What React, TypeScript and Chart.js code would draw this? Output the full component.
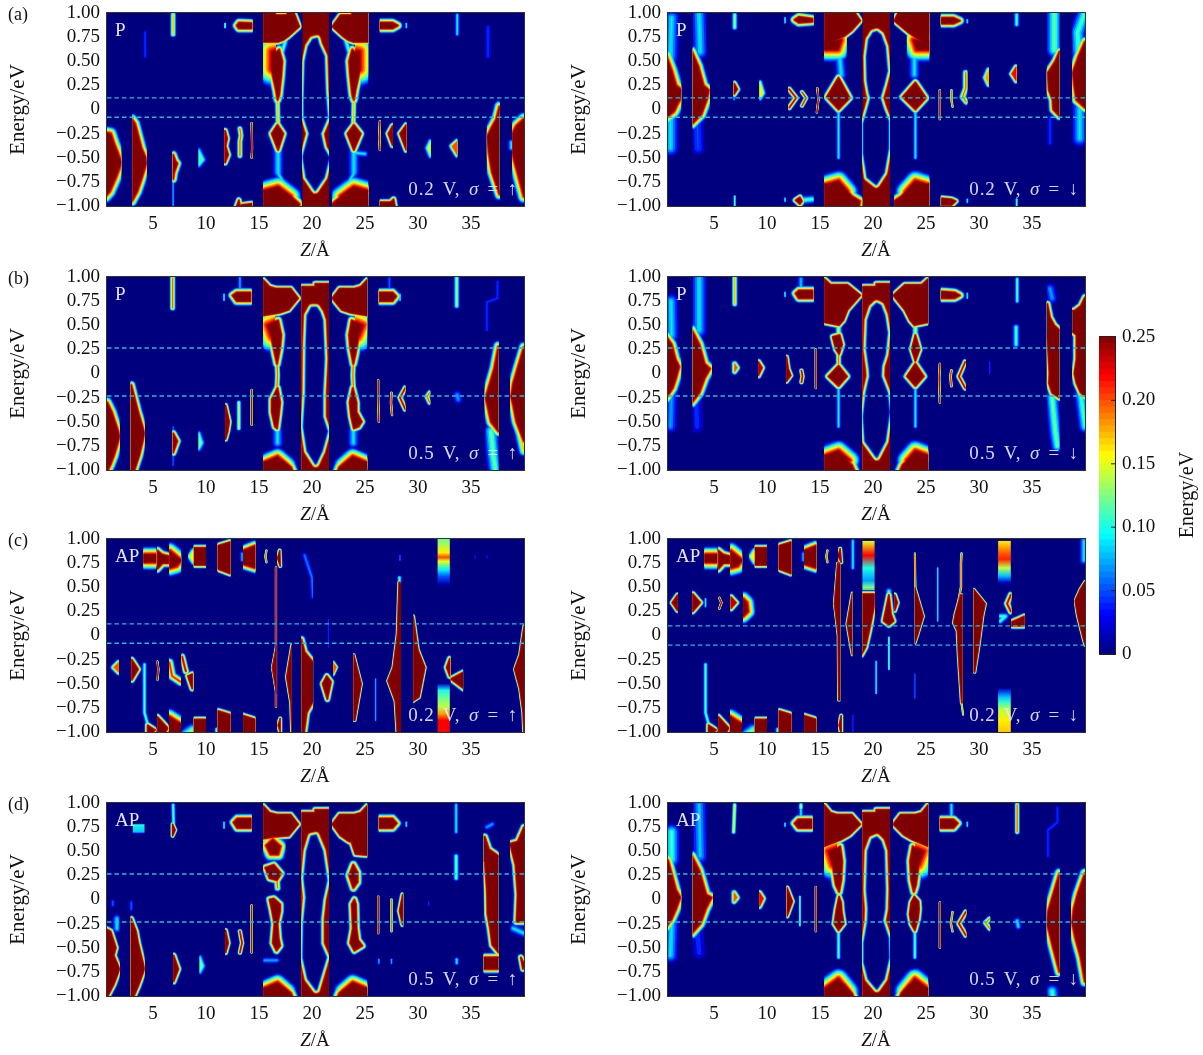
import React, { useEffect, useRef } from "react";
import { Chart, registerables } from "chart.js";
Chart.register(...registerables);

type Shape = { k: string; s: number; lo: number; hi: number; top: number; p: number[] };
const b = (s: number, lo: number | null, hi: number | null, p: number[], top = 0.25): Shape => ({ k: "b", s, lo: lo ?? -99, hi: hi ?? 99, top, p });
const r = (s: number, top: number, p: number[], lo: number | null = null, hi: number | null = null): Shape => ({ k: "r", s, lo: lo ?? -99, hi: hi ?? 99, top, p });
const h = (s: number, lo: number, hi: number, p: number[]): Shape => ({ k: "h", s, lo, hi, top: 0.25, p });
const st = (lo: number, hi: number, p: number[]): Shape => ({ k: "s", s: 0, lo, hi, top: 0.25, p });

const xTickValues = [5, 10, 15, 20, 25, 30, 35];
const energyTicks = [-1, -0.75, -0.5, -0.25, 0, 0.25, 0.5, 0.75, 1];
const colorTicks = [0, 0.05, 0.1, 0.15, 0.2, 0.25];
const colorEdges = [0, 0.005, 0.01, 0.015, 0.02, 0.025, 0.03, 0.035, 0.04, 0.045, 0.05, 0.055, 0.06, 0.065, 0.07, 0.075, 0.08, 0.085, 0.09, 0.095, 0.1, 0.105, 0.11, 0.115, 0.12, 0.125, 0.13, 0.135, 0.14, 0.145, 0.15, 0.155, 0.16, 0.165, 0.17, 0.175, 0.18, 0.185, 0.19, 0.195, 0.2, 0.205, 0.21, 0.215, 0.22, 0.225, 0.23, 0.235, 0.24, 0.245, 0.25];

const windowLow = [0.12, -0.08];
const windowHigh = [0.265, -0.233];
const windowC2 = [0.1, -0.1];

const columnFull = [19, 1.05, 21.6, 1.05, 21.6, -1.05, 19, -1.05];
const columnStep = [19, 0.9, 20.3, 0.9, 20.3, 0.93, 21.6, 0.93, 21.6, -1.05, 19, -1.05];

const apTopRow: Shape[] = [
  b(9, 4.1, 5.3, [4.1, 0.84, 5.3, 0.84, 5.3, 0.76, 4.1, 0.76]),
  b(4, 5.4, 6.5, [5.4, 0.88, 5.85, 0.84, 6.5, 0.82, 6.5, 0.75, 5.9, 0.75, 5.4, 0.69]),
  b(10, 6.55, 7.65, [6.55, 0.88, 7.1, 0.83, 7.65, 0.78, 7.2, 0.72, 6.55, 0.7]),
  b(3, 8.85, 10, [8.85, 0.91, 10, 0.91, 10, 0.73, 8.85, 0.73]),
  b(3, 8.3, 8.85, [8.8, 0.88, 8.45, 0.82, 8.8, 0.76], 0.15),
  b(3, 11.1, 12.3, [11.1, 0.93, 12.3, 0.97, 12.3, 0.64, 11.1, 0.69]),
  b(5, 13.5, 14.65, [13.5, 0.88, 14.65, 0.93, 14.65, 0.7, 13.5, 0.74]),
  r(2, 0.08, [13.4, 0.85, 13.4, 0.78]),
  r(1.5, 0.2, [15.7, 0.88, 15.6, 0.82, 15.7, 0.76]),
];
const apBottomRow: Shape[] = [
  b(3, 4.2, 5.3, [4.5, -0.93, 5.2, -0.98, 4.5, -1.05]),
  r(2, 0.12, [4.2, -0.3, 4.2, -0.8, 4.5, -0.92]),
  b(3, 5.4, 6.45, [5.4, -0.84, 6.4, -0.96, 5.9, -1.05, 5.4, -1.05]),
  b(7, 6.5, 7.65, [6.5, -0.84, 7.65, -0.92, 7.65, -1.05, 6.5, -1.05]),
  r(8, 0.14, [7.8, -1.05, 8.7, -0.98], 7.7, 8.8),
  b(3, 8.85, 10, [8.85, -0.87, 10, -0.87, 10, -1.05, 8.85, -1.05]),
  b(3, 11.1, 12.3, [11.1, -0.78, 12.3, -0.82, 12.3, -1.05, 11.1, -1.05]),
  b(3, 13.5, 14.65, [13.5, -0.83, 14.65, -0.87, 14.65, -1.05, 13.5, -1.05]),
  r(2, 0.12, [11, -0.97, 11, -1]),
];

const panelAUp: Shape[] = [
  b(8, 0.66, 2, [0.5, -0.24, 1, -0.25, 1.3, -0.35, 1.9, -0.52, 2, -0.55, 1.5, -0.7, 0.9, -0.85, 0.5, -0.9]),
  b(5, 3.06, 4.4, [3, -0.1, 3.3, -0.15, 3.9, -0.4, 4.3, -0.5, 4.35, -0.56, 3.9, -0.72, 3.5, -0.85, 3, -0.95]),
  b(4, 6.85, null, [6.9, -0.47, 7.1, -0.53, 7.3, -0.56, 7, -0.65, 6.9, -0.72]),
  r(1.5, 0.08, [6.9, -0.72, 6.9, -1]),
  r(2.5, 0.18, [6.9, 0.98, 6.9, 0.78]),
  r(2, 0.05, [4.25, 0.8, 4.25, 0.55]),
  b(3, 9.3, null, [9.3, -0.42, 9.75, -0.52, 9.3, -0.58], 0.11),
  b(3, 11.7, null, [11.8, -0.22, 12, -0.3, 11.85, -0.38, 12.1, -0.47, 11.8, -0.55]),
  r(2.5, 0.2, [13.2, -0.2, 13.3, -0.27, 13.2, -0.33, 13.2, -0.48]),
  r(1.2, 0.25, [14.3, -0.14, 14.35, -0.4, 14.3, -0.5]),
  r(1.5, 0.12, [11.8, 0.89, 11.8, 0.85]),
  b(4, null, 14.4, [12.9, 0.87, 13.1, 0.9, 14.3, 0.895, 14.3, 0.84, 13.1, 0.84]),
  b(3, null, 14.4, [12.9, -1, 13.1, -0.94, 13.2, -1]),
  b(3, null, 14.4, [13.3, -0.99, 14.3, -0.975, 14.3, -1.05, 13.3, -1.05]),
  b(3, 15.4, 19, [15.4, 1.05, 16.2, 1.05, 16.6, 0.98, 17.6, 0.98, 18, 1.05, 18.3, 1, 18.8, 0.86, 17.8, 0.76, 17.3, 0.72, 16.8, 0.7, 15.4, 0.7]),
  b(20, 15.4, 16.6, [16.2, 0.6, 16.9, 0.62, 16.6, 0.42, 16.2, 0.42]),
  b(4, 15.4, 19, [16.2, 0.55, 16.9, 0.62, 17.2, 0.5, 17.1, 0.35, 16.9, 0.15, 16.75, 0.1, 16.6, 0.2, 16.2, 0.4]),
  r(3, 0.12, [17.6, 0.75, 17.2, 0.6]),
  r(2.5, 0.18, [16.75, 0.1, 16.8, -0.15]),
  b(3.5, 15.4, 19, [16.75, -0.16, 17.3, -0.25, 16.8, -0.42, 16.2, -0.25]),
  r(5, 0.1, [16.8, -0.42, 16.8, -0.65]),
  b(5, 15.4, 19, [15.4, -0.84, 16.3, -0.83, 16.8, -0.8, 17.2, -0.85, 18, -0.9, 18.8, -0.98, 18.6, -1.05, 15.4, -1.05]),
  b(12, 15.4, 19, [16.8, -0.8, 15.5, -0.84, 18, -0.9]),
  r(3, 0.1, [16.8, -0.66, 17.8, -0.85, 18.7, -0.97]),
  b(0, 19.1, 21.6, columnFull),
  h(3.5, 19.1, 21.6, [20.45, 0.73, 20.1, 0.72, 19.7, 0.65, 19.4, 0.5, 19.3, 0.1, 19.3, -0.08, 19.8, -0.25, 19.3, -0.45, 19.2, -0.49, 19.5, -0.7, 20.3, -0.83, 21.1, -0.7, 21.55, -0.5, 21.05, -0.4, 20.75, -0.25, 21.4, -0.08, 21.2, 0.2, 21.1, 0.55, 20.6, 0.67]),
  b(3, 21.9, 25.3, [25.3, 0.7, 23.9, 0.7, 23.4, 0.72, 22.9, 0.76, 21.9, 0.86, 22.7, 0.98, 23.7, 0.98, 24.1, 1.05, 25.3, 1.05]),
  b(20, 24.1, 25.3, [24.5, 0.6, 23.8, 0.62, 24.1, 0.42, 24.5, 0.42]),
  b(4, 21.9, 25.3, [24.5, 0.55, 23.8, 0.62, 23.5, 0.5, 23.6, 0.35, 23.8, 0.15, 23.95, 0.1, 24.1, 0.2, 24.5, 0.4]),
  r(3, 0.12, [23.1, 0.75, 23.5, 0.6]),
  r(2.5, 0.18, [23.95, 0.1, 23.9, -0.15]),
  b(3.5, 21.9, 25.3, [23.95, -0.16, 24.6, -0.25, 23.95, -0.42, 23.35, -0.25]),
  r(3, 0.1, [24.1, -0.45, 25, -0.46], 21.9, 25.3),
  r(5, 0.1, [23.95, -0.42, 23.95, -0.65]),
  b(5, 21.9, 25.3, [25.3, -0.84, 24.4, -0.83, 23.95, -0.8, 23.5, -0.85, 22.8, -0.9, 21.9, -0.98, 22.1, -1.05, 25.3, -1.05]),
  b(12, 21.9, 25.3, [23.95, -0.8, 25.2, -0.84, 22.7, -0.9]),
  r(3, 0.1, [23.95, -0.66, 23, -0.85]),
  r(1.3, 0.25, [26.4, -0.12, 26.35, -0.3, 26.4, -0.42]),
  b(3, null, 27.65, [27.6, -0.17, 27.2, -0.25, 27.6, -0.37]),
  b(3, null, 28.9, [28.9, -0.16, 28.3, -0.25, 28.9, -0.42]),
  b(3, null, 31.2, [31.2, -0.33, 30.9, -0.4, 31.2, -0.48], 0.14),
  b(3, null, 33.7, [33.7, -0.33, 33.2, -0.38, 33.7, -0.47], 0.2),
  r(2, 0.1, [33.7, 0.98, 33.7, 0.78]),
  b(4, 26.4, null, [26.4, 0.9, 27.6, 0.9, 28.1, 0.87, 27.6, 0.84, 26.4, 0.84]),
  r(1.5, 0.1, [28.9, 0.89, 28.9, 0.85]),
  b(3, 26.4, null, [26.4, -0.96, 27.4, -0.96, 27.7, -0.93, 27.9, -1.05, 26.4, -1.05]),
  b(5, 36.5, 37.7, [38, 0.03, 37.7, 0.03, 37.4, -0.1, 36.9, -0.2, 36.55, -0.28, 36.7, -0.45, 37, -0.65, 37.7, -0.88, 38, -0.88]),
  r(3, 0.05, [36.6, 0.85, 36.6, 0.55]),
  b(6, 38.9, 40, [38.9, -0.25, 39.3, -0.17, 40, -0.1, 40.2, -0.1, 40.2, -0.9, 40, -0.9, 39.4, -0.65, 38.9, -0.45]),
  r(3, 0.1, [38.8, -0.34, 38.8, -0.4], null, 38.9),
];

const panelADown: Shape[] = [
  b(6, 0.66, 1.9, [0.5, 0.55, 1, 0.4, 1.4, 0.25, 1.9, 0.2, 1.75, 0.1, 1.5, 0.05, 1.2, -0.02, 0.5, -0.08]),
  r(10, 0.1, [1, 0.95, 0.9, 0.55], 0.66, 1.9),
  r(10, 0.1, [0.9, -0.05, 0.9, -0.4], 0.66, 1.9),
  b(5, 3, 4.6, [2.9, 0.6, 3.5, 0.45, 4, 0.25, 4.5, 0.2, 4.3, 0.1, 3.8, -0.05, 2.9, -0.15]),
  r(10, 0.1, [3.6, 0.98, 3.7, 0.6], 3, 4.3),
  r(7, 0.06, [3.4, -0.1, 3.5, -0.4], 3, 4.3),
  r(2.5, 0.14, [6.95, 0.98, 6.95, 0.85]),
  b(3, 6.85, null, [6.9, 0.27, 7.2, 0.21, 6.9, 0.16]),
  r(1.5, 0.08, [6.9, 0.16, 6.9, 0.1]),
  r(1.5, 0.12, [6.95, -0.9, 6.95, -1]),
  b(3, 9.3, null, [9.3, 0.28, 9.6, 0.17, 9.3, 0.12], 0.16),
  r(2.5, 0.24, [12.1, 0.21, 12.75, 0.12, 12.1, 0.02], 12),
  r(2, 0.22, [13.3, 0.18, 13.7, 0.12, 13.3, 0.04]),
  r(1.3, 0.25, [14.75, 0.22, 14.85, 0.1, 14.7, -0.03]),
  b(4, null, 14.4, [12.6, 0.93, 13, 0.96, 14.3, 0.94, 14.3, 0.91, 13, 0.9]),
  r(1.5, 0.1, [11.7, 0.95, 11.7, 0.9]),
  b(3, null, 13.5, [12.7, -0.94, 13.1, -0.91, 13.3, -0.95, 13.1, -0.98]),
  r(4, 0.12, [13.3, -0.94, 14.3, -0.93], null, 14.4),
  r(1.5, 0.1, [11.7, -0.92, 11.7, -0.95]),
  b(3, 15.4, 19, [15.4, 1.05, 18, 1.05, 18.8, 0.92, 18, 0.82, 17.3, 0.76, 16.5, 0.72, 15.4, 0.68]),
  b(14, 15.4, 17.5, [15.4, 0.7, 17, 0.72, 16.7, 0.62, 15.4, 0.62]),
  r(5, 0.1, [16.8, 0.62, 17, 0.36], 15.4, 19),
  b(3.5, 15.4, 19, [16.75, 0.33, 17.8, 0.12, 16.75, 0, 15.65, 0.13]),
  r(2, 0.1, [16.75, 0, 16.75, -0.5]),
  b(5, 15.4, 19, [15.4, -0.77, 16.2, -0.78, 16.8, -0.76, 17.2, -0.8, 18, -0.9, 18.75, -0.95, 18.6, -1.05, 15.4, -1.05]),
  b(12, 15.4, 19, [16.75, -0.74, 15.5, -0.78, 17.6, -0.85]),
  b(0, 19, 21.6, columnFull),
  h(3.5, 19, 21.6, [20.05, 0.79, 19.65, 0.72, 19.45, 0.55, 19.5, 0.3, 19.7, 0.17, 19.85, 0.12, 19.55, 0, 19.15, -0.15, 19.15, -0.45, 19.5, -0.7, 20.3, -0.77, 21, -0.65, 21.4, -0.4, 21.4, -0.12, 20.95, 0, 20.6, 0.12, 20.95, 0.25, 21.3, 0.4, 21.1, 0.65, 20.7, 0.77, 20.35, 0.8]),
  b(3, 22, 25.3, [25.3, 1.05, 22.6, 1.05, 22, 0.92, 23.3, 0.8, 24.2, 0.73, 25.3, 0.68]),
  b(14, 23.2, 25.3, [25.3, 0.7, 23.8, 0.72, 24.1, 0.62, 25.3, 0.62]),
  r(5, 0.1, [23.9, 0.62, 23.9, 0.36], 22, 25.3),
  b(3.5, 22, 25.3, [24, 0.28, 25, 0.12, 24, 0, 22.8, 0.13]),
  r(2, 0.1, [24, 0, 24, -0.5]),
  b(5, 22, 25.3, [25.3, -0.77, 24.5, -0.78, 24, -0.76, 23.5, -0.8, 22.7, -0.9, 22, -0.95, 22.1, -1.05, 25.3, -1.05]),
  b(12, 22, 25.3, [24, -0.74, 25.2, -0.78, 23.1, -0.85]),
  r(1.3, 0.24, [26.3, 0.2, 26.3, -0.1]),
  r(1.5, 0.2, [27.4, 0.2, 27.4, 0.1, 27.5, 0.03]),
  r(3, 0.2, [28.75, 0.38, 28.75, 0.22, 28.45, 0.13, 28.8, 0.08], null, 28.9),
  b(3, null, 30.95, [30.9, 0.41, 30.6, 0.33, 30.9, 0.26], 0.18),
  b(3, null, 33.55, [33.5, 0.44, 33.1, 0.37, 33.5, 0.3], 0.22),
  r(2.5, 0.12, [33.55, 0.98, 33.55, 0.88]),
  b(4, 26.4, null, [26.5, 0.95, 27.6, 0.95, 28.2, 0.92, 27.6, 0.89, 26.5, 0.89]),
  b(3, 26.4, null, [26.5, -0.92, 27.4, -0.93, 27.8, -0.95, 27.4, -0.99, 26.5, -0.99]),
  r(1.5, 0.1, [28.9, 0.93, 28.9, 0.9]),
  r(1.5, 0.1, [28.9, -0.93, 28.9, -0.96]),
  r(1.5, 0.12, [33.55, -0.93, 33.55, -1]),
  b(4, 36.4, 37.6, [37.8, 0.6, 37.6, 0.6, 37.2, 0.5, 36.5, 0.38, 36.6, 0.2, 36.95, 0.1, 37, 0, 37.6, -0.07, 37.8, -0.07]),
  r(10, 0.13, [37.1, 1, 37.1, 0.62], 36.4, 37.6),
  r(3, 0.05, [36.7, -0.1, 36.7, -0.35]),
  b(5, 38.8, 40, [40.2, 0.7, 40, 0.7, 39.4, 0.55, 38.85, 0.38, 39, 0.25, 39.2, 0.1, 39.7, 0.05, 40, 0.02, 40.2, 0.02]),
  r(10, 0.12, [39.9, 0.98, 39.3, 0.8, 39.4, 0.6], 38.8, 40),
  r(10, 0.1, [39.5, 0, 39.5, -0.3], 38.8, 40),
];

const panelBUp: Shape[] = [
  b(5, 0.66, 1.85, [0.5, -0.3, 0.66, -0.3, 1.1, -0.4, 1.85, -0.65, 1.3, -0.85, 0.95, -0.95, 0.5, -1.05]),
  b(4, 2.9, 4.2, [2.8, -0.12, 2.95, -0.12, 3.6, -0.4, 4.2, -0.62, 3.7, -0.85, 3.1, -1.05, 2.8, -1.05]),
  b(3.5, 6.85, null, [6.9, -0.62, 7.3, -0.7, 6.9, -0.82]),
  r(1.5, 0.06, [6.9, -0.55, 6.9, -0.95]),
  b(3, 9.3, null, [9.3, -0.62, 9.6, -0.72, 9.3, -0.78], 0.12),
  b(2.5, 11.8, null, [11.85, -0.33, 12.2, -0.5, 12.05, -0.6, 11.85, -0.68]),
  r(2, 0.15, [13.1, -0.3, 13.1, -0.57]),
  r(1.2, 0.25, [14.3, -0.17, 14.3, -0.53]),
  r(2.5, 0.2, [6.85, 0.99, 6.85, 0.68]),
  b(4, null, 14.3, [12.5, 0.81, 12.9, 0.84, 14.2, 0.84, 14.2, 0.75, 12.9, 0.75]),
  r(2, 0.08, [13.2, 0.99, 13.2, 0.85]),
  r(1.5, 0.1, [11.7, 0.82, 11.7, 0.76]),
  b(3, 15.4, 19, [15.4, 0.97, 16, 0.9, 16.6, 0.88, 18, 0.88, 18.7, 0.78, 17.8, 0.66, 17, 0.63, 15.4, 0.6]),
  b(18, 15.4, 16.5, [15.8, 0.5, 16.8, 0.55, 16.5, 0.38, 16.2, 0.38]),
  b(4, 15.4, 19, [16.1, 0.52, 16.8, 0.55, 17.1, 0.4, 17, 0.27, 16.7, 0.1, 16.5, 0.2, 16.2, 0.35]),
  r(2.5, 0.2, [16.7, 0.1, 16.75, -0.02, 16.7, -0.13]),
  b(3.5, 15.4, 19, [16.75, -0.15, 17, -0.3, 16.85, -0.45, 16.7, -0.57, 16.5, -0.55, 16.2, -0.4, 16.2, -0.27]),
  r(5, 0.1, [16.75, -0.6, 16.75, -0.72]),
  b(5, 15.4, 19, [15.4, -0.92, 16.3, -0.9, 16.8, -0.88, 17.2, -0.9, 18, -0.97, 18.3, -1.05, 15.4, -1.05]),
  b(10, 15.4, 19, [16.75, -0.86, 15.5, -0.92, 17.7, -0.95]),
  b(3, 19, 21.6, columnStep),
  h(3.5, 19, 21.6, [20.4, 0.68, 20, 0.68, 19.6, 0.6, 19.5, 0.3, 19.45, -0.2, 19.25, -0.55, 19.6, -0.8, 20.35, -0.93, 20.9, -0.8, 21.4, -0.6, 20.95, -0.45, 20.95, -0.2, 21.1, 0.15, 20.95, 0.55, 20.7, 0.63]),
  b(3, 21.9, 25.2, [25.2, 0.97, 24.6, 0.9, 24, 0.88, 22.6, 0.88, 21.9, 0.78, 22.8, 0.66, 23.6, 0.63, 25.2, 0.6]),
  b(18, 24.1, 25.2, [24.8, 0.5, 23.75, 0.55, 24.05, 0.38, 24.35, 0.38]),
  b(4, 21.9, 25.2, [24.4, 0.52, 23.75, 0.55, 23.5, 0.4, 23.6, 0.27, 23.9, 0.1, 24.1, 0.2, 24.35, 0.35]),
  r(2.5, 0.2, [23.9, 0.1, 23.85, -0.02, 23.9, -0.13]),
  b(3.5, 21.9, 25.2, [23.85, -0.15, 24.2, -0.3, 24.2, -0.4, 24.7, -0.5, 24.4, -0.55, 23.95, -0.57, 23.7, -0.45, 23.55, -0.3]),
  r(5, 0.1, [23.9, -0.6, 23.9, -0.72]),
  b(5, 21.9, 25.2, [25.2, -0.92, 24.3, -0.9, 23.85, -0.88, 23.4, -0.9, 22.6, -0.97, 22.3, -1.05, 25.2, -1.05]),
  b(10, 21.9, 25.2, [23.85, -0.86, 25.1, -0.92, 22.9, -0.95]),
  r(1.2, 0.25, [26.25, -0.07, 26.25, -0.25, 26.3, -0.5]),
  r(1.5, 0.22, [27.5, -0.2, 27.45, -0.3, 27.55, -0.43]),
  r(2.5, 0.24, [28.8, -0.15, 28.3, -0.25, 28.8, -0.37], null, 28.8),
  r(2.5, 0.2, [31.1, -0.2, 30.85, -0.24, 31.1, -0.3], null, 31.15),
  r(4, 0.08, [33.7, -0.22, 33.8, -0.27]),
  b(4, 26.3, null, [26.4, 0.84, 27.6, 0.84, 27.95, 0.8, 27.6, 0.75, 26.4, 0.75]),
  r(1.5, 0.1, [28.3, 0.82, 28.3, 0.76]),
  r(2, 0.06, [27.3, 0.99, 27.3, 0.85]),
  r(2.5, 0.14, [33.65, 0.99, 33.65, 0.7]),
  r(2, 0.05, [37.5, 0.95, 37.5, 0.78, 36.5, 0.74, 36.5, 0.45]),
  b(5, 36.3, 37.6, [37.8, 0.28, 37.6, 0.28, 37.2, 0.05, 36.8, -0.1, 36.4, -0.25, 36.6, -0.35, 36.9, -0.5, 37.6, -0.6, 37.8, -0.6]),
  r(9, 0.13, [36.9, -0.6, 37.1, -0.85, 37.3, -1], 36.3, 37.6),
  b(5, 38.7, 40, [40.2, 0.27, 40, 0.27, 39.4, 0.05, 39, -0.1, 38.8, -0.24, 39, -0.33, 39.3, -0.5, 40, -0.7, 40.2, -0.7]),
  r(5, 0.18, [39.5, -0.55, 40, -0.8], 38.7, 40),
];

const panelBDown: Shape[] = [
  b(5, 0.66, 1.9, [0.5, 0.38, 1, 0.3, 1.35, 0.15, 1.7, 0.07, 1.4, -0.05, 1.1, -0.15, 0.5, -0.25]),
  r(9, 0.1, [0.95, 0.75, 1, 0.4], 0.66, 1.9),
  r(8, 0.08, [1, -0.2, 0.9, -0.55], 0.66, 1.9),
  b(5, 3, 4.8, [2.9, 0.45, 3.6, 0.3, 4.1, 0.1, 4.6, 0.05, 4.1, -0.05, 3.6, -0.2, 2.9, -0.3]),
  r(10, 0.1, [3.6, 0.98, 3.6, 0.45], 3, 4.3),
  r(7, 0.05, [3.3, -0.25, 3.4, -0.55], 3, 4.3),
  b(3, null, null, [6.95, 0.1, 7.2, 0.06, 6.95, 0.02], 0.2),
  r(2.5, 0.18, [6.95, 0.99, 6.95, 0.72]),
  b(3, 9.15, null, [9.2, 0.12, 9.55, 0.06, 9.2, -0.02], 0.24),
  b(2.5, 11.8, null, [11.85, 0.17, 12, 0.05, 12.25, -0.02, 11.85, -0.08]),
  r(2, 0.24, [13.25, 0.03, 13.35, -0.03, 13.25, -0.09]),
  r(1.3, 0.25, [14.6, 0.25, 14.6, -0.15]),
  b(4, null, 14.4, [12.7, 0.83, 13, 0.86, 14.3, 0.86, 14.3, 0.78, 13, 0.78]),
  r(3, 0.09, [13.2, 0.98, 13.2, 0.88]),
  r(1.5, 0.1, [11.7, 0.84, 11.7, 0.8]),
  b(3, 15.4, 19, [15.4, 0.98, 16, 0.92, 17.6, 0.92, 18.8, 0.81, 17.6, 0.66, 17.2, 0.55, 16.8, 0.5, 15.4, 0.53]),
  r(3, 0.15, [16.75, 0.5, 16.75, 0.42]),
  b(3, 15.4, 19, [16.2, 0.38, 16.85, 0.4, 17.1, 0.3, 16.8, 0.2, 16.5, 0.25]),
  r(2.5, 0.2, [16.75, 0.2, 16.75, 0.1]),
  b(3.5, 15.4, 19, [16.75, 0.08, 17.55, -0.03, 16.75, -0.13, 15.8, -0.03]),
  r(2, 0.1, [16.75, -0.17, 16.75, -0.55]),
  b(5, 15.4, 19, [15.4, -0.85, 16.3, -0.84, 16.8, -0.83, 17.3, -0.87, 18, -0.95, 18.4, -1.05, 15.4, -1.05]),
  b(12, 15.4, 19, [16.75, -0.8, 15.5, -0.85, 17.8, -0.9]),
  b(3, 19, 21.6, columnStep),
  h(3.5, 19, 21.6, [20.35, 0.72, 19.95, 0.68, 19.55, 0.55, 19.45, 0.25, 19.7, 0.05, 19.75, -0.03, 19.4, -0.2, 19.15, -0.45, 19.3, -0.7, 20.35, -0.86, 21.1, -0.7, 21.5, -0.4, 21.3, -0.2, 20.7, -0.03, 20.75, 0.08, 21.1, 0.2, 21.3, 0.42, 21.05, 0.6, 20.7, 0.7]),
  b(3, 21.9, 25.2, [25.2, 0.98, 24.6, 0.92, 23, 0.92, 21.9, 0.81, 23, 0.66, 23.5, 0.55, 23.9, 0.5, 25.2, 0.53]),
  r(3, 0.15, [24, 0.5, 24, 0.42]),
  b(3, 21.9, 25.2, [24, 0.4, 24.4, 0.25, 24, 0.13, 23.65, 0.25]),
  r(2.5, 0.2, [24, 0.13, 24, 0.1]),
  b(3.5, 21.9, 25.2, [24, 0.1, 24.8, -0.03, 24, -0.13, 23.2, -0.03]),
  r(2, 0.1, [24, -0.17, 24, -0.55]),
  b(5, 21.9, 25.2, [25.2, -0.85, 24.5, -0.84, 24, -0.83, 23.5, -0.87, 22.8, -0.95, 22.4, -1.05, 25.2, -1.05]),
  b(12, 21.9, 25.2, [24, -0.8, 25.2, -0.85, 23.2, -0.9]),
  r(1.3, 0.25, [26.3, 0.1, 26.25, -0.05, 26.3, -0.3]),
  r(1.8, 0.22, [27.4, 0.03, 27.3, -0.03, 27.4, -0.13]),
  r(2.5, 0.24, [28.7, 0.12, 28.1, -0.03, 28.7, -0.15], null, 28.75),
  r(1.5, 0.05, [31, 0.12, 31, 0]),
  r(3, 0.12, [33.5, 0.48, 33.5, 0.3]),
  r(2, 0.12, [33.6, 0.98, 33.6, 0.75]),
  b(4, 26.4, null, [26.5, 0.85, 27.7, 0.84, 28.2, 0.81, 27.7, 0.78, 26.5, 0.78]),
  r(1.5, 0.1, [28.9, 0.83, 28.9, 0.78]),
  b(3.5, 36.4, 37.6, [36.2, 0.72, 36.45, 0.72, 36.7, 0.58, 37.1, 0.5, 37.6, 0.45, 37.8, 0.45, 37.8, -0.25, 37.6, -0.25, 36.9, -0.2, 36.6, -0.1, 36.65, 0, 36.55, 0.2, 36.45, 0.35, 36.2, 0.35]),
  r(5, 0.08, [36.7, 0.88, 36.9, 0.78], 36.4, 37.6),
  r(8, 0.13, [36.9, -0.25, 37.2, -0.6, 37.4, -0.75], 36.4, 37.6),
  b(3.5, 38.8, 40, [38.6, 0.65, 39, 0.65, 39.6, 0.7, 40, 0.79, 40.2, 0.79, 40.2, -0.25, 39.6, -0.2, 39.2, -0.1, 39, 0, 39.2, 0.15, 39.2, 0.4, 38.6, 0.45]),
  r(8, 0.12, [39.6, -0.22, 40, -0.55], 38.8, 40),
];

const panelCUp: Shape[] = [
  ...apTopRow,
  ...apBottomRow,
  b(3, null, 1.8, [1.75, -0.28, 1.3, -0.33, 1.75, -0.38], 0.2),
  b(3, 2.95, null, [3, -0.25, 3.6, -0.35, 3, -0.46]),
  r(1.5, 0.24, [5.4, -0.27, 5.5, -0.35, 5.4, -0.46], 5.35),
  r(4, 0.22, [6.55, -0.28, 6.8, -0.42, 7.6, -0.48], 6.5, 7.65),
  r(3, 0.24, [7.75, -0.22, 8, -0.33, 8.1, -0.37], 7.7, 8.8),
  b(3, 7.7, 8.8, [8.3, -0.42, 8.7, -0.4, 8.7, -0.55]),
  st(31.85, 33, [1, 0.12, 0.86, 0.16, 0.81, 0.2, 0.77, 0.15, 0.68, 0.09, 0.61, 0.05, 0.53, 0.01, 0.5, 0]),
  st(31.85, 33, [-0.5, 0.02, -0.57, 0.1, -0.64, 0.12, -0.74, 0.14, -0.81, 0.18, -0.88, 0.22, -1, 0.22]),
  b(1.2, null, 16.65, [16.25, -0.33, 16.65, -0.1, 16.65, -0.6]),
  r(1.3, 0.24, [16.6, 0.71, 16.6, -0.74]),
  b(2, 16.7, null, [16.95, 0.88, 16.75, 0.8, 17, 0.72]),
  b(2, 16.7, null, [17, -0.86, 16.8, -0.93, 17, -1]),
  b(1.5, null, 18.1, [18.2, -0.1, 18.1, -0.1, 17.6, -0.43, 18, -0.7, 18.1, -1.05, 18.2, -1.05]),
  b(3.5, 19, 20.1, [18.9, -0.04, 19, -0.04, 19.3, -0.17, 20.1, -0.28, 20.3, -0.28, 20.3, -0.68, 20.1, -0.68, 19.5, -0.8, 19.2, -1.05, 18.9, -1.05]),
  r(2.5, 0.07, [19.3, 0.83, 20, 0.6, 20.1, 0.4], 19, 20.1),
  r(1, 0.05, [21.55, 0.17, 21.55, -0.12]),
  b(3, null, null, [21.4, -0.42, 21.8, -0.48, 21.45, -0.66, 21, -0.5]),
  b(2, 22, null, [22, -0.28, 22.3, -0.33, 22, -0.4], 0.2),
  b(1.5, 23.9, null, [23.95, -0.2, 24.65, -0.5, 24.05, -0.88, 23.9, -0.88]),
  r(1, 0.08, [26, -0.45, 26, -0.88]),
  b(1.5, null, 28.4, [28.2, 0.55, 28.05, 0.02, 27.65, -0.33, 27.15, -0.47, 27.85, -0.68, 28.05, -1.05, 28.5, -1.05, 28.5, 0.55]),
  r(1.5, 0.06, [28.3, 0.83, 28.3, 0.78]),
  r(2, 0.12, [28.25, 0.6, 28.25, 0.55]),
  b(1.8, 29.55, null, [29.55, 0.2, 30, -0.15, 30.65, -0.33, 30.1, -0.64, 29.55, -0.68]),
  b(3, null, 33.05, [33, -0.24, 32.7, -0.33, 33, -0.42]),
  b(3, 33.1, 34.25, [34.3, -0.38, 33.1, -0.45, 34.3, -0.55]),
  r(1, 0.04, [35.4, 0.83, 35.4, 0.8]),
  r(1, 0.04, [36.5, 0.83, 36.5, 0.8]),
  b(1.5, 39, null, [40.2, 0.1, 40, 0.1, 39.6, -0.2, 39.1, -0.35, 39.6, -0.55, 39.9, -0.8, 40, -1.05, 40.2, -1.05]),
];

const panelCDown: Shape[] = [
  ...apTopRow,
  ...apBottomRow,
  b(2.5, null, 1.6, [1.55, 0.42, 1.05, 0.34, 1.55, 0.26]),
  b(3, 2.95, null, [3, 0.43, 3.7, 0.34, 3, 0.25]),
  r(1.5, 0.1, [4.2, 0.38, 4.2, 0.3]),
  r(1.5, 0.24, [5.5, 0.39, 5.7, 0.34, 5.5, 0.28]),
  b(3, 6.55, null, [6.6, 0.4, 7.1, 0.34, 6.6, 0.28], 0.24),
  b(9, 7.75, 8.9, [7.75, 0.38, 8.1, 0.34, 8.2, 0.25, 7.75, 0.2]),
  st(31.8, 33, [0.98, 0.16, 0.84, 0.2, 0.79, 0.21, 0.7, 0.14, 0.62, 0.08, 0.55, 0.02, 0.52, 0]),
  st(31.8, 33, [-0.55, 0.02, -0.64, 0.08, -0.7, 0.11, -0.77, 0.14, -0.88, 0.16, -1, 0.17]),
  b(1.2, null, 16.9, [16.65, 0.75, 16.35, 0.33, 16.7, 0, 16.75, -0.67, 16.95, -0.67, 16.95, 0.75]),
  b(2, 16.7, null, [16.9, 0.9, 16.7, 0.82, 17, 0.76]),
  b(2, 16.7, null, [17, -0.83, 16.8, -0.93, 17, -1.02]),
  b(1.5, null, 18.05, [18.15, 0.44, 18.05, 0.44, 17.55, 0.12, 18.05, -0.2, 18.15, -0.2]),
  r(2, 0.1, [18.1, 0.98, 18.1, 0.7]),
  r(1.5, 0.05, [18.1, -0.83, 18.1, -1]),
  st(19, 20.15, [0.98, 0.15, 0.83, 0.22, 0.7, 0.1, 0.57, 0.07, 0.5, 0.12, 0.44, 0.2]),
  b(3, 19, 20.15, [18.9, 0.43, 20.15, 0.43, 20.1, 0.3, 19.65, 0.05, 19.3, -0.12, 18.9, -0.2]),
  r(1.5, 0.1, [20.3, -0.27, 20.3, -0.6]),
  r(1.5, 0.12, [21.5, -0.02, 21.5, -0.35]),
  r(3, 0.12, [21.5, 0.46, 21.5, 0.25]),
  b(3, null, null, [21.5, 0.42, 21.7, 0.22, 21.95, 0.15, 21.5, 0.11, 21, 0.15]),
  b(2.5, 22, null, [22.05, 0.42, 22.3, 0.34, 22.05, 0.26]),
  r(1.2, 0.2, [23.95, 0.85, 24, 0.5]),
  b(1.5, 23.95, null, [23.95, 0.5, 24.75, 0.2, 24.2, 0, 23.95, -0.08]),
  r(1, 0.06, [23.95, -0.4, 23.95, -0.65]),
  r(1, 0.1, [26.1, 0.7, 26.1, 0.15]),
  r(1.5, 0.2, [28.35, 0.85, 28.3, 0.75, 28.3, 0.5, 28.05, 0.35]),
  b(1.5, null, 28.45, [28.25, 0.42, 27.75, 0.22, 27.6, 0.13, 27.95, 0.05, 28.05, -0.2, 28.35, -0.7, 28.5, -0.7, 28.5, 0.42]),
  r(1.3, 0.18, [28.35, -0.7, 28.5, -0.82]),
  b(1.5, 29.5, null, [29.5, 0.48, 30.6, 0.33, 30.35, 0.2, 30, -0.1, 29.6, -0.38, 29.5, -0.38]),
  r(3, 0.24, [33, 0.42, 32.65, 0.33, 33, 0.25], null, 33.05),
  r(3, 0.12, [32, 0.2, 32.5, 0.2, 32, 0.15], 31.9),
  b(3, 33.05, 34.3, [33.05, 0.14, 33.7, 0.17, 34.3, 0.2, 34.3, 0.1, 33.05, 0.1]),
  b(1.5, 39, null, [40.2, 0.56, 40, 0.56, 39.55, 0.48, 39.05, 0.36, 39.3, 0.2, 39.8, -0.02, 40, -0.1, 40.2, -0.1]),
  r(4, 0.1, [39.9, 0.98, 39.9, 0.78]),
];

const panelDUp: Shape[] = [
  b(3, 0.66, 1.85, [0.5, -0.3, 1, -0.33, 1.5, -0.5, 1.3, -0.58, 1.85, -0.72, 1.3, -0.88, 0.5, -1.05]),
  r(4, 0.1, [1.6, -0.2, 1.6, -0.3], 0.66, 1.85),
  r(2, 0.06, [1.2, -0.02, 1.2, -0.06]),
  b(3, 2.9, 4.2, [2.8, -0.2, 2.95, -0.2, 3.4, -0.33, 3.6, -0.45, 4.2, -0.72, 3.6, -0.9, 3, -1.05, 2.8, -1.05]),
  r(2, 0.06, [2.95, -0.03, 2.95, -0.1]),
  st(3.1, 4.2, [0.78, 0.1, 0.7, 0.08, 0.685, 0.03, 0.68, 0]),
  r(2, 0.12, [6.9, 0.98, 6.95, 0.75]),
  b(2, null, null, [6.85, 0.78, 7.1, 0.72, 6.85, 0.66]),
  b(3, 6.9, null, [6.95, -0.58, 7.4, -0.72, 6.95, -0.85]),
  b(3, 9.4, null, [9.4, -0.6, 9.7, -0.69, 9.4, -0.75], 0.12),
  b(2.5, 11.8, null, [11.85, -0.32, 12.1, -0.45, 11.85, -0.55]),
  r(2, 0.24, [13.2, -0.33, 13.4, -0.45, 13.2, -0.55]),
  r(1.2, 0.25, [14.3, -0.06, 14.3, -0.55]),
  b(4, null, 14.3, [12.6, 0.8, 12.95, 0.84, 14.25, 0.84, 14.25, 0.74, 12.95, 0.74]),
  r(1.5, 0.1, [11.7, 0.8, 11.7, 0.74]),
  b(3, 15.4, 19, [15.4, 0.97, 16, 0.9, 16.7, 0.88, 18, 0.88, 18.7, 0.78, 17.8, 0.66, 16.5, 0.65, 15.4, 0.63]),
  b(6, 15.4, 17.5, [15.7, 0.56, 16.3, 0.62, 17, 0.55, 16.8, 0.47, 16.1, 0.47]),
  b(3.5, 15.4, 19, [15.6, 0.33, 16.4, 0.36, 17.1, 0.27, 16.7, 0.2, 16, 0.22]),
  r(3, 0.2, [16.7, 0.2, 16.75, 0.12]),
  b(3.5, 15.4, 19, [16, 0, 16.4, 0.01, 17, -0.05, 17, -0.12, 16.75, -0.25, 16.85, -0.4, 17, -0.48, 16.65, -0.53, 16.3, -0.45, 16.45, -0.25, 16.2, -0.1]),
  b(5, 15.4, 19, [15.4, -0.92, 16.3, -0.9, 16.8, -0.88, 17.2, -0.9, 18, -0.97, 18.3, -1.05, 15.4, -1.05]),
  r(3, 0.08, [15.5, -0.63, 16.7, -0.63], 15.4, 19),
  b(10, 15.4, 19, [16.75, -0.86, 15.5, -0.92, 17.7, -0.95]),
  b(3, 19, 21.6, columnStep),
  h(3.5, 19, 21.6, [20.35, 0.66, 19.95, 0.65, 19.55, 0.5, 19.3, 0.22, 19.5, 0.02, 19.25, -0.26, 19.2, -0.6, 19.65, -0.82, 20.4, -0.93, 21.3, -0.6, 20.75, -0.46, 20.75, -0.2, 20.95, 0, 21.35, 0.2, 20.95, 0.5, 20.5, 0.62]),
  b(3, 21.9, 25.2, [25.2, 0.97, 24.6, 0.9, 24, 0.88, 22.6, 0.88, 21.9, 0.78, 22.7, 0.66, 23.5, 0.6, 23.7, 0.6, 24.1, 0.47, 25.2, 0.46]),
  b(4, 21.9, 25.2, [23.9, 0.36, 24.3, 0.28, 24.3, 0.18, 23.9, 0.12, 23.5, 0.25]),
  b(3.5, 21.9, 25.2, [24, 0, 24.15, -0.05, 24.2, -0.3, 24.35, -0.42, 24.75, -0.48, 24, -0.53, 23.6, -0.45, 23.85, -0.3, 23.75, -0.05]),
  b(5, 21.9, 25.2, [25.2, -0.92, 24.3, -0.9, 23.85, -0.88, 23.4, -0.9, 22.6, -0.97, 22.3, -1.05, 25.2, -1.05]),
  b(10, 21.9, 25.2, [23.85, -0.86, 25.1, -0.92, 22.9, -0.95]),
  r(1.2, 0.25, [26.25, 0.03, 26.25, -0.35]),
  r(1.5, 0.2, [27.5, 0, 27.5, -0.33]),
  b(2.5, null, 28.6, [28.55, 0.05, 28.25, -0.12, 28.55, -0.26]),
  r(1.2, 0.05, [31, -0.02, 31, -0.06]),
  r(2, 0.1, [33.6, 0.98, 33.6, 0.7]),
  r(2.5, 0.13, [33.6, 0.45, 33.6, 0.22]),
  r(1.5, 0.08, [26.3, -0.62, 26.3, -0.66]),
  r(1.5, 0.08, [27.5, -0.62, 27.5, -0.66]),
  r(2, 0.1, [33.65, -0.62, 33.65, -0.66]),
  b(4, 26.3, null, [26.35, 0.84, 27.6, 0.84, 28, 0.79, 27.6, 0.74, 26.35, 0.74]),
  r(1.5, 0.1, [28.9, 0.8, 28.9, 0.76]),
  b(3.5, 36.2, 37.6, [36, 0.65, 36.3, 0.65, 36.7, 0.52, 37.6, 0.45, 37.8, 0.45, 37.8, -0.55, 37.6, -0.55, 37, -0.47, 36.8, -0.3, 36.55, -0.15, 36.5, 0.1, 36.3, 0.4, 36, 0.4]),
  r(3, 0.08, [36.5, 0.75, 37, 0.78], 36.2, 37.6),
  b(4, 36.2, 37.6, [36, -0.6, 37.8, -0.6, 37.8, -0.72, 36, -0.72]),
  b(3.5, 38.7, 40, [38.5, 0.58, 38.75, 0.58, 39.4, 0.6, 40, 0.75, 40.3, 0.75, 40.3, -0.23, 39.3, -0.23, 39.4, 0.05, 39.2, 0.36, 38.75, 0.55]),
  r(4, 0.1, [39, -0.3, 40, -0.35], 38.7, 40),
  b(3, 39, 40, [39.7, -0.6, 40, -0.66, 40.1, -0.66, 39.9, -0.72]),
];

const panelDDown: Shape[] = [
  b(5, 0.66, 1.9, [0.5, 0.42, 0.66, 0.4, 1.4, 0.1, 1.8, 0.02, 1.4, -0.1, 1, -0.2, 0.5, -0.28]),
  r(10, 0.12, [1, 0.7, 1, 0.42], 0.66, 1.9),
  r(9, 0.1, [1, -0.25, 0.9, -0.58], 0.66, 1.9),
  b(5, 3, 4.9, [2.9, 0.45, 3.6, 0.3, 4.25, 0.05, 4.75, 0.02, 4.2, -0.1, 3.7, -0.25, 2.9, -0.35]),
  r(10, 0.09, [3.6, 0.98, 3.7, 0.45], 3, 4.3),
  r(7, 0.05, [3.4, -0.3, 3.6, -0.55], 3, 4.3),
  b(3, null, null, [6.9, 0.07, 7.2, 0.02, 6.9, -0.02], 0.2),
  b(3, 9.25, null, [9.3, 0.07, 9.65, 0.01, 9.3, -0.07], 0.22),
  b(2.5, 11.85, null, [11.9, 0.12, 12.4, -0.02, 11.9, -0.17]),
  r(1.5, 0.12, [13.1, 0.03, 13.1, -0.27]),
  r(1.2, 0.25, [14.6, 0.13, 14.6, -0.33]),
  r(2, 0.16, [6.95, 0.98, 6.85, 0.7]),
  r(2, 0.15, [13.2, 0.98, 13.2, 0.95]),
  r(2, 0.1, [13.2, 0.93, 13.2, 0.85]),
  b(4, null, 14.3, [12.6, 0.79, 12.95, 0.83, 14.2, 0.83, 14.2, 0.74, 12.95, 0.74]),
  r(1.5, 0.1, [11.7, 0.79, 11.7, 0.76]),
  b(3, 15.4, 19, [15.4, 0.98, 16, 0.9, 16.6, 0.88, 18, 0.88, 18.8, 0.78, 17.8, 0.67, 17, 0.62, 15.4, 0.55]),
  b(18, 15.4, 16.6, [15.8, 0.5, 16.9, 0.55, 16.5, 0.36, 16.2, 0.36]),
  b(4, 15.4, 19, [16.2, 0.5, 16.9, 0.55, 17.1, 0.4, 17, 0.2, 16.8, 0.08, 16.5, 0.15, 16.2, 0.35]),
  b(3, 15.4, 19, [16.8, 0.03, 17, -0.03, 17.05, -0.12, 17.25, -0.25, 16.75, -0.32, 16.35, -0.25, 16.55, -0.1]),
  r(2, 0.12, [16.75, -0.33, 16.75, -0.6]),
  b(5, 15.4, 19, [15.4, -0.92, 16.2, -0.89, 16.8, -0.86, 17.3, -0.88, 18, -0.97, 18.3, -1.05, 15.4, -1.05]),
  b(12, 15.4, 19, [16.75, -0.82, 15.5, -0.92, 17.7, -0.95]),
  b(3, 19, 21.6, columnStep),
  h(3.5, 19, 21.6, [20.35, 0.64, 19.95, 0.62, 19.55, 0.5, 19.45, 0.1, 19.6, -0.1, 19.55, -0.23, 19.2, -0.45, 19.2, -0.65, 19.6, -0.82, 20.35, -0.92, 21, -0.82, 21.45, -0.6, 21.4, -0.4, 20.85, -0.22, 21.05, -0.1, 21.1, 0.1, 21, 0.5, 20.7, 0.6]),
  b(3, 21.9, 25.2, [25.2, 0.98, 24.6, 0.9, 24, 0.88, 22.6, 0.88, 21.9, 0.78, 22.9, 0.67, 23.7, 0.62, 25.2, 0.55]),
  b(18, 24, 25.2, [24.8, 0.5, 23.75, 0.55, 24.05, 0.36, 24.3, 0.36]),
  b(4, 21.9, 25.2, [24.3, 0.5, 23.75, 0.55, 23.5, 0.4, 23.6, 0.2, 23.85, 0.08, 24.05, 0.15, 24.3, 0.35]),
  b(3, 21.9, 25.2, [23.9, 0.03, 24.3, -0.02, 24.35, -0.1, 24.25, -0.2, 23.95, -0.32, 23.6, -0.25, 23.45, -0.15, 23.6, -0.03]),
  r(2, 0.12, [23.95, -0.33, 23.95, -0.6]),
  b(5, 21.9, 25.2, [25.2, -0.92, 24.4, -0.89, 23.9, -0.86, 23.4, -0.88, 22.7, -0.97, 22.4, -1.05, 25.2, -1.05]),
  b(12, 21.9, 25.2, [23.95, -0.82, 25.1, -0.92, 23, -0.95]),
  r(1.2, 0.25, [26.3, -0.03, 26.3, -0.5]),
  r(1.5, 0.2, [27.5, -0.13, 27.35, -0.25, 27.5, -0.33]),
  r(2.5, 0.24, [28.75, -0.13, 28.1, -0.25, 28.75, -0.37], null, 28.8),
  r(2.5, 0.2, [31, -0.2, 30.6, -0.24, 31, -0.3], null, 31.05),
  r(3, 0.1, [33.6, -0.22, 33.7, -0.28]),
  r(2.2, 0.2, [33.6, 0.98, 33.6, 0.7]),
  b(4, 26.3, null, [26.35, 0.83, 27.6, 0.83, 28, 0.79, 27.6, 0.74, 26.35, 0.74]),
  r(2.5, 0.1, [27.4, 0.98, 27.4, 0.85]),
  r(1.5, 0.1, [28.9, 0.8, 28.9, 0.76]),
  r(2, 0.05, [37.4, 0.95, 37.4, 0.8, 36.5, 0.72, 36.5, 0.45]),
  b(5, 36.4, 37.6, [37.8, 0.27, 37.6, 0.27, 37, 0.05, 36.55, -0.12, 36.4, -0.25, 36.6, -0.32, 37, -0.5, 37.6, -0.75, 37.8, -0.75]),
  r(8, 0.12, [36.9, -0.95, 37, -1.05], 36.4, 37.6),
  b(5, 38.7, 40, [40.2, 0.27, 40, 0.27, 39.3, 0.05, 38.95, -0.1, 38.8, -0.24, 39.1, -0.4, 39.6, -0.6, 40, -0.85, 40.2, -0.85]),
];

const jet = (v: number) => {
  const t = Math.max(0, Math.min(1, v / 0.25));
  const c = (x: number) => Math.round(255 * Math.max(0, Math.min(1, 1.5 - Math.abs(4 * t - x))));
  return `rgb(${c(3)},${c(2)},${c(1)})`;
};

const levels = [0.02, 0.04, 0.06, 0.08, 0.1, 0.12, 0.14, 0.16, 0.18, 0.2, 0.22, 0.24];
const NAVY = "#00007f";
const DARKRED = "#7f0000";
const spreadOf = (sh: Shape) => (sh.k === "r" && sh.s < 2 ? sh.s * 0.85 : sh.s < 8 ? sh.s * 1.35 : sh.s);

const heatPlugin = {
  id: "heat",
  beforeDatasetsDraw(chart: any) {
    const { ctx, chartArea: a, scales } = chart;
    const X = (v: number) => scales.x.getPixelForValue(v);
    const Y = (v: number) => scales.y.getPixelForValue(v);
    const shapes: Shape[] = chart.config.data.datasets.map((d: any) => d.shape).filter(Boolean);
    const W = a.right - a.left;
    const H = a.bottom - a.top;
    ctx.save();
    ctx.beginPath();
    ctx.rect(a.left, a.top, W, H);
    ctx.clip();
    ctx.fillStyle = NAVY;
    ctx.fillRect(a.left, a.top, W, H);
    ctx.lineJoin = "round";
    ctx.lineCap = "round";
    const path = (sh: Shape) => {
      ctx.beginPath();
      for (let i = 0; i < sh.p.length; i += 2) {
        const px = X(sh.p[i]);
        const py = Y(sh.p[i + 1]);
        if (i === 0) ctx.moveTo(px, py);
        else ctx.lineTo(px, py);
      }
      if (sh.k !== "r") ctx.closePath();
    };
    const clipTo = (sh: Shape) => {
      const l = Math.max(a.left, X(sh.lo));
      const rr = Math.min(a.right, X(sh.hi));
      ctx.beginPath();
      ctx.rect(l, a.top, rr - l, H);
      ctx.clip();
    };
    for (const sh of shapes) {
      if (sh.k !== "s") continue;
      const y0 = Y(sh.p[0]);
      const y1 = Y(sh.p[sh.p.length - 2]);
      const g = ctx.createLinearGradient(0, y0, 0, y1);
      for (let i = 0; i < sh.p.length; i += 2) {
        g.addColorStop(Math.max(0, Math.min(1, (Y(sh.p[i]) - y0) / (y1 - y0))), jet(sh.p[i + 1]));
      }
      ctx.fillStyle = g;
      ctx.fillRect(X(sh.lo), Math.min(y0, y1), X(sh.hi) - X(sh.lo), Math.abs(y1 - y0));
    }
    for (const lv of levels) {
      ctx.strokeStyle = jet(lv);
      for (const sh of shapes) {
        if ((sh.k !== "b" && sh.k !== "r") || sh.s <= 0 || lv > sh.top) continue;
        ctx.save();
        clipTo(sh);
        path(sh);
        ctx.lineWidth = 2 * spreadOf(sh) * (1 - lv / sh.top) + (sh.k === "r" ? 0.7 : 0.3);
        ctx.stroke();
        ctx.restore();
      }
    }
    for (const sh of shapes) {
      if (sh.k !== "b") continue;
      ctx.save();
      clipTo(sh);
      path(sh);
      ctx.fillStyle = sh.top >= 0.25 ? DARKRED : jet(sh.top);
      ctx.fill();
      ctx.restore();
    }
    for (const sh of shapes) {
      if (sh.k !== "h") continue;
      ctx.save();
      clipTo(sh);
      for (let i = levels.length - 1; i >= 0; i--) {
        path(sh);
        ctx.lineWidth = 2 * sh.s * 1.45 * (levels[i] / 0.25);
        ctx.strokeStyle = jet(levels[i]);
        ctx.stroke();
      }
      path(sh);
      ctx.fillStyle = NAVY;
      ctx.fill();
      ctx.restore();
    }
    ctx.filter = "blur(0.55px)";
    ctx.drawImage(ctx.canvas, a.left, a.top, W, H, a.left, a.top, W, H);
    ctx.filter = "none";
    ctx.restore();
  },
  afterDraw(chart: any) {
    const { ctx, chartArea: a } = chart;
    ctx.save();
    ctx.strokeStyle = "#333";
    ctx.lineWidth = 1;
    ctx.strokeRect(a.left - 0.5, a.top - 0.5, a.right - a.left + 1, a.bottom - a.top + 1);
    ctx.restore();
  },
};

const FONT = "'Liberation Serif', serif";
const tickText = (v: number) => {
  if (v === 0) return "0";
  return (v < 0 ? "\u2212" : "") + Math.abs(v).toFixed(2);
};

function Panel({ left, top, shapes, lines }: { left: number; top: number; shapes: Shape[]; lines: number[] }) {
  const ref = useRef<HTMLCanvasElement>(null);
  useEffect(() => {
    const datasets: any[] = shapes.map((sh) => {
      const pts: { x: number; y: number }[] = [];
      if (sh.k === "s") {
        for (let i = 0; i < sh.p.length; i += 2) pts.push({ x: sh.lo, y: sh.p[i] });
      } else {
        for (let i = 0; i < sh.p.length; i += 2) pts.push({ x: sh.p[i], y: sh.p[i + 1] });
      }
      return { shape: sh, data: pts, showLine: false, pointRadius: 0, pointHoverRadius: 0 };
    });
    lines.forEach((e) => {
      datasets.push({
        data: [{ x: 0.66, y: e }, { x: 40, y: e }],
        showLine: true,
        pointRadius: 0,
        borderColor: "#25bcd8",
        borderWidth: 1.4,
        borderDash: [4.5, 3],
      });
    });
    const chart = new Chart(ref.current as HTMLCanvasElement, {
      type: "scatter",
      data: { datasets },
      plugins: [heatPlugin],
      options: {
        animation: false,
        responsive: false,
        layout: { padding: { top: 13, right: 10, bottom: 0, left: 0 } },
        plugins: { legend: { display: false }, tooltip: { enabled: false } },
        scales: {
          x: {
            type: "linear",
            min: 0.66,
            max: 40,
            grid: { display: false, drawTicks: false },
            border: { display: false },
            afterBuildTicks: (s: any) => { s.ticks = xTickValues.map((value) => ({ value })); },
            afterFit: (s: any) => { s.height = 60; s.paddingLeft = 0; s.paddingRight = 0; },
            ticks: { padding: 7, maxRotation: 0, autoSkip: false, color: "#111", font: { family: FONT, size: 19 }, callback: (v: any) => String(v) },
          },
          y: {
            type: "linear",
            min: -1,
            max: 1,
            grid: { display: false, drawTicks: false },
            border: { display: false },
            afterBuildTicks: (s: any) => { s.ticks = energyTicks.map((value) => ({ value })); },
            afterFit: (s: any) => { s.width = 107; s.paddingTop = 0; s.paddingBottom = 0; },
            title: { display: true, text: "Energy/eV", color: "#111", font: { family: FONT, size: 21 }, padding: { top: 6, bottom: 0 } },
            ticks: { padding: 7, autoSkip: false, color: "#111", font: { family: FONT, size: 19 }, callback: (v: any) => tickText(v) },
          },
        },
      } as any,
    });
    return () => chart.destroy();
  }, []);
  return <canvas ref={ref} width={534} height={266} style={{ position: "absolute", left: left - 107, top: top - 13, display: "block" }} />;
}

const colorbarPlugin = {
  id: "cbframe",
  afterDraw(chart: any) {
    const { ctx, chartArea: a, scales } = chart;
    ctx.save();
    ctx.strokeStyle = "#222";
    ctx.lineWidth = 1;
    for (const v of colorTicks.slice(1, -1)) {
      const y = scales.y.getPixelForValue(v);
      ctx.beginPath();
      ctx.moveTo(a.right - 4, y);
      ctx.lineTo(a.right, y);
      ctx.stroke();
    }
    ctx.strokeRect(a.left - 0.5, a.top - 0.5, a.right - a.left + 1, a.bottom - a.top + 1);
    ctx.restore();
  },
};

function Colorbar() {
  const ref = useRef<HTMLCanvasElement>(null);
  useEffect(() => {
    const datasets = colorEdges.slice(0, -1).map((lo, i) => ({
      data: [[lo, colorEdges[i + 1]]],
      backgroundColor: jet((lo + colorEdges[i + 1]) / 2),
      borderWidth: 0,
      barPercentage: 1,
      categoryPercentage: 1,
      grouped: false,
    }));
    const chart = new Chart(ref.current as HTMLCanvasElement, {
      type: "bar",
      data: { labels: ["Energy/eV"], datasets },
      plugins: [colorbarPlugin],
      options: {
        animation: false,
        responsive: false,
        layout: { padding: { top: 12, right: 0, bottom: 12, left: 0 } },
        plugins: { legend: { display: false }, tooltip: { enabled: false } },
        scales: {
          x: { display: false, stacked: false },
          y: {
            position: "right",
            min: 0,
            max: 0.25,
            grid: { display: false, drawTicks: false },
            border: { display: false },
            afterBuildTicks: (s: any) => { s.ticks = colorTicks.map((value) => ({ value })); },
            afterFit: (s: any) => { s.width = 64; s.paddingTop = 0; s.paddingBottom = 0; },
            ticks: { padding: 7, autoSkip: false, color: "#111", font: { family: FONT, size: 19 }, callback: (v: any) => (v === 0 ? "0" : Number(v).toFixed(2)) },
          },
        },
      } as any,
    });
    return () => chart.destroy();
  }, []);
  return <canvas ref={ref} width={80} height={341} style={{ position: "absolute", left: 1099, top: 325, display: "block" }} />;
}

const panelLefts = [107, 668];
const panelTops = [13, 277, 539, 803];
const rowLetters = ["(a)", "(b)", "(c)", "(d)"];
const rowTags = ["P", "P", "AP", "AP"];
const rowBias = ["0.2 V", "0.5 V", "0.2 V", "0.5 V"];
const rowShapes = [[panelAUp, panelADown], [panelBUp, panelBDown], [panelCUp, panelCDown], [panelDUp, panelDDown]];
const rowLines = [[windowLow, windowLow], [windowHigh, windowHigh], [windowLow, windowC2], [windowHigh, windowHigh]];
const spinArrows = ["\u2191", "\u2193"];

const textStyle = (left: number, top: number, extra: React.CSSProperties = {}): React.CSSProperties => ({
  position: "absolute", left, top, fontFamily: FONT, fontSize: 19, lineHeight: "20px", whiteSpace: "nowrap", color: "#111", ...extra,
});

export default function App() {
  return (
    <div style={{ position: "absolute", left: 0, top: 0, width: 1203, height: 1055, overflow: "hidden", background: "#fff" }}>
      {panelTops.map((top, row) =>
        panelLefts.map((left, col) => (
          <React.Fragment key={`${row}-${col}`}>
            <Panel left={left} top={top} shapes={rowShapes[row][col]} lines={rowLines[row][col]} />
            <div style={textStyle(left + 8, top + 7, { color: "rgba(240,240,250,0.95)" })}>{rowTags[row]}</div>
            <div style={textStyle(left + 289, top + 166, { color: "rgba(232,232,245,0.92)", wordSpacing: 3, letterSpacing: 0.8, width: 122, textAlign: "right" })}>
              {rowBias[row]}, <i>σ</i> = {spinArrows[col]}
            </div>
            <div style={textStyle(left + 175, top + 227, { width: 66, textAlign: "center" })}>
              <i>Z</i>/Å
            </div>
          </React.Fragment>
        ))
      )}
      {panelTops.map((top, row) => (
        <div key={row} style={textStyle(8, top - 9, { fontSize: 18 })}>{rowLetters[row]}</div>
      ))}
      <Colorbar />
      <div style={textStyle(1136, 485, { width: 100, textAlign: "center", fontSize: 20, transform: "rotate(-90deg)" })}>Energy/eV</div>
    </div>
  );
}
